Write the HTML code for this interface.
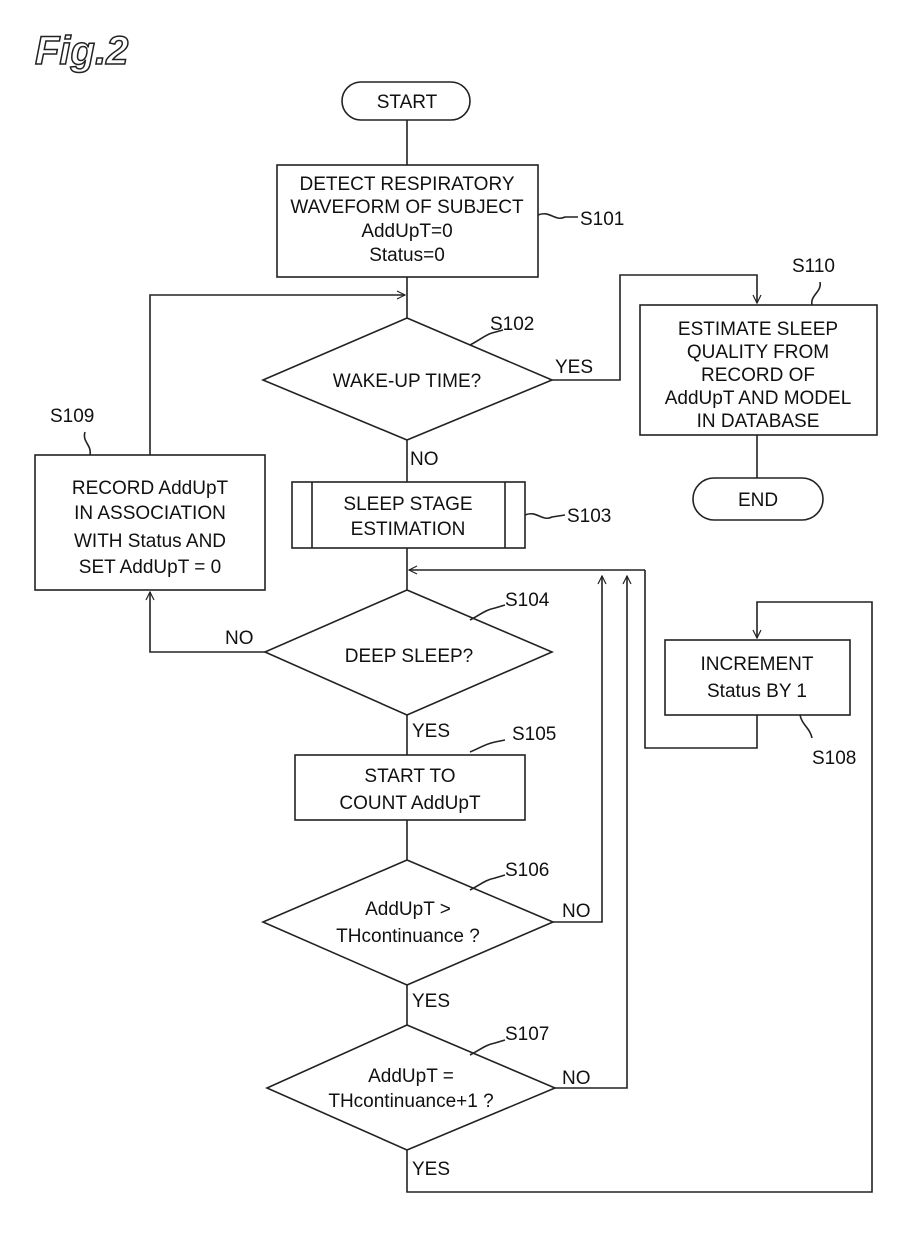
<!DOCTYPE html>
<html><head><meta charset="utf-8"><style>
html,body{margin:0;padding:0;background:#fff;}
svg{display:block;}
text{font-family:"Liberation Sans",sans-serif;font-size:19px;fill:#111;}
</style></head><body>
<svg width="921" height="1240" viewBox="0 0 921 1240" xmlns="http://www.w3.org/2000/svg">
<defs>
<marker id="a" markerWidth="10" markerHeight="10" refX="9" refY="5" orient="auto" markerUnits="userSpaceOnUse">
<path d="M1,1 L9,5 L1,9" fill="none" stroke="#222" stroke-width="1.2"/>
</marker>
</defs>
<g fill="none" stroke="#222" stroke-width="1.6">
<!-- start -->
<rect x="342" y="82" width="128" height="38" rx="19"/>
<line x1="407" y1="120" x2="407" y2="165"/>
<rect x="277" y="165" width="261" height="112"/>
<line x1="407" y1="277" x2="407" y2="318"/>
<!-- loop from S109 -->
<polyline points="150,455 150,295 405,295" marker-end="url(#a)"/>
<!-- S102 -->
<polygon points="407,318 552,380 407,440 263,380"/>
<polyline points="552,380 620,380 620,275 757,275 757,303" marker-end="url(#a)"/>
<rect x="640" y="305" width="237" height="130"/>
<line x1="757" y1="435" x2="757" y2="478"/>
<rect x="693" y="478" width="130" height="42" rx="21"/>
<line x1="407" y1="440" x2="407" y2="482"/>
<!-- S103 -->
<rect x="292" y="482" width="233" height="66"/>
<line x1="312" y1="482" x2="312" y2="548"/>
<line x1="505" y1="482" x2="505" y2="548"/>
<line x1="407" y1="548" x2="407" y2="590"/>
<polyline points="645,570 409,570" marker-end="url(#a)"/>
<!-- S109 -->
<rect x="35" y="455" width="230" height="135"/>
<!-- S104 -->
<polygon points="407,590 552,652 407,715 265,652"/>
<polyline points="265,652 150,652 150,592" marker-end="url(#a)"/>
<line x1="407" y1="715" x2="407" y2="755"/>
<rect x="295" y="755" width="230" height="65"/>
<line x1="407" y1="820" x2="407" y2="860"/>
<!-- S106 -->
<polygon points="407,860 553,922 407,985 263,922"/>
<polyline points="553,922 602,922 602,576" marker-end="url(#a)"/>
<line x1="407" y1="985" x2="407" y2="1025"/>
<!-- S107 -->
<polygon points="407,1025 555,1088 407,1150 267,1088"/>
<polyline points="555,1088 627,1088 627,576" marker-end="url(#a)"/>
<polyline points="407,1150 407,1192 872,1192 872,602 757,602 757,638" marker-end="url(#a)"/>
<!-- S108 -->
<rect x="665" y="640" width="185" height="75"/>
<polyline points="757,715 757,748 645,748 645,570"/>
<!-- squiggles -->
<path d="M538,215 C550,210 555,222 565,217 L578,217"/>
<path d="M470,345 C480,340 485,335 492,333 L503,330"/>
<path d="M812,305 C810,295 822,292 820,282"/>
<path d="M90,455 C92,445 82,442 85,432"/>
<path d="M525,515 C537,510 542,522 552,517 L565,515"/>
<path d="M470,620 C480,615 485,610 495,608 L505,605"/>
<path d="M470,752 C480,748 485,744 495,742 L505,740"/>
<path d="M470,890 C480,885 485,880 495,878 L505,875"/>
<path d="M470,1055 C480,1050 485,1045 495,1043 L505,1040"/>
<path d="M800,715 C802,725 810,728 812,738"/>
</g>
<text x="35" y="64" style="font-size:40px;font-style:italic;font-weight:bold;fill:#fff;stroke:#222;stroke-width:1.5">Fig.2</text>
<g text-anchor="middle">
<text x="407" y="108">START</text>
<text x="407" y="190">DETECT RESPIRATORY</text>
<text x="407" y="213">WAVEFORM OF SUBJECT</text>
<text x="407" y="237">AddUpT=0</text>
<text x="407" y="261">Status=0</text>
<text x="407" y="387">WAKE-UP TIME?</text>
<text x="758" y="335">ESTIMATE SLEEP</text>
<text x="758" y="358">QUALITY FROM</text>
<text x="758" y="381">RECORD OF</text>
<text x="758" y="404">AddUpT AND MODEL</text>
<text x="758" y="427">IN DATABASE</text>
<text x="758" y="506">END</text>
<text x="408" y="510">SLEEP STAGE</text>
<text x="408" y="535">ESTIMATION</text>
<text x="150" y="494">RECORD AddUpT</text>
<text x="150" y="519">IN ASSOCIATION</text>
<text x="150" y="547">WITH Status AND</text>
<text x="150" y="573">SET AddUpT = 0</text>
<text x="409" y="662">DEEP SLEEP?</text>
<text x="410" y="782">START TO</text>
<text x="410" y="809">COUNT AddUpT</text>
<text x="408" y="915">AddUpT &gt;</text>
<text x="408" y="942">THcontinuance ?</text>
<text x="411" y="1082">AddUpT =</text>
<text x="411" y="1107">THcontinuance+1 ?</text>
<text x="757" y="670">INCREMENT</text>
<text x="757" y="697">Status BY 1</text>
</g>
<text x="580" y="225">S101</text>
<text x="490" y="330">S102</text>
<text x="792" y="272">S110</text>
<text x="50" y="422">S109</text>
<text x="567" y="522">S103</text>
<text x="505" y="606">S104</text>
<text x="512" y="740">S105</text>
<text x="505" y="876">S106</text>
<text x="505" y="1040">S107</text>
<text x="812" y="764">S108</text>
<text x="555" y="373">YES</text>
<text x="410" y="465">NO</text>
<text x="225" y="644">NO</text>
<text x="412" y="737">YES</text>
<text x="562" y="917">NO</text>
<text x="412" y="1007">YES</text>
<text x="562" y="1084">NO</text>
<text x="412" y="1175">YES</text>
</svg>
</body></html>
